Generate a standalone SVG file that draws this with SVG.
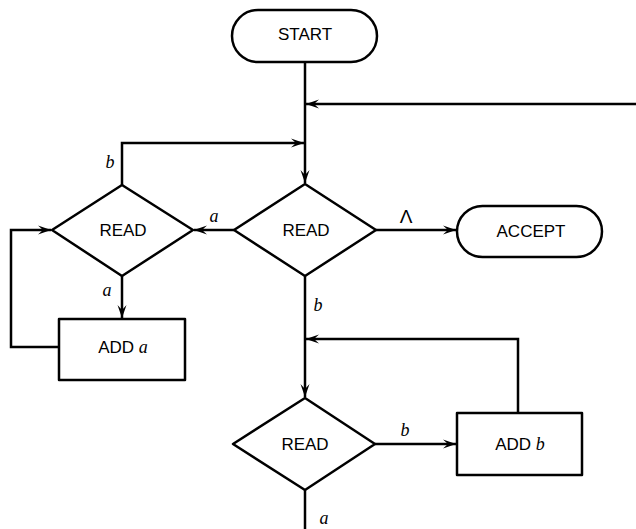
<svg xmlns="http://www.w3.org/2000/svg" width="636" height="529" viewBox="0 0 636 529">
<style>
.shape{fill:#fff;stroke:#000;stroke-width:2.5;stroke-linejoin:round}
.line{fill:none;stroke:#000;stroke-width:2.5}
.lbl{font-family:"Liberation Sans",Arial,sans-serif;font-size:17px;text-anchor:middle;dominant-baseline:central;fill:#000}
.it{font-family:"Liberation Serif","Times New Roman",serif;font-style:italic;font-size:18px;text-anchor:middle;dominant-baseline:central;fill:#000}
</style>
<defs>
<marker id="ah" markerUnits="userSpaceOnUse" markerWidth="14" markerHeight="10" refX="13" refY="5" orient="auto">
<path d="M0,0.5 L13,5 L0,9.5 L5,5 z" fill="#000"/>
</marker>
</defs>
<rect width="636" height="529" fill="#fff"/>
<g id="connectors">
<path class="line" d="M305,62 V183" marker-end="url(#ah)"/>
<path class="line" d="M636,104 H306" marker-end="url(#ah)"/>
<path class="line" d="M122,185 V143 H304" marker-end="url(#ah)"/>
<path class="line" d="M234,230 H194" marker-end="url(#ah)"/>
<path class="line" d="M122,276 V318" marker-end="url(#ah)"/>
<path class="line" d="M59,347 H11 V230 H51" marker-end="url(#ah)"/>
<path class="line" d="M376,230 H456" marker-end="url(#ah)"/>
<path class="line" d="M305,276 V397" marker-end="url(#ah)"/>
<path class="line" d="M518,413 V339 H306" marker-end="url(#ah)"/>
<path class="line" d="M375,444 H456" marker-end="url(#ah)"/>
<path class="line" d="M305,490 V529"/>
<text class="it" x="110" y="162">b</text>
<text class="it" x="214" y="216">a</text>
<text class="it" x="107" y="290">a</text>
<text class="lbl" x="406" y="216" style="font-size:19px">Λ</text>
<text class="it" x="318" y="305">b</text>
<text class="it" x="405" y="430">b</text>
<text class="it" x="324" y="518">a</text>
</g>
<g id="start">
<rect class="shape" x="232" y="10" width="145" height="52" rx="26"/>
<text class="lbl" x="305" y="34">START</text>
</g>
<g id="read1">
<polygon class="shape" points="305,184 376,230 305,276 234,230"/>
<text class="lbl" x="306" y="230">READ</text>
</g>
<g id="read2">
<polygon class="shape" points="122,185 193,230 122,276 52,230"/>
<text class="lbl" x="123" y="230">READ</text>
</g>
<g id="accept">
<rect class="shape" x="457" y="206" width="145" height="51" rx="25.5"/>
<text class="lbl" x="531" y="231">ACCEPT</text>
</g>
<g id="adda">
<rect class="shape" x="59" y="319" width="126" height="61"/>
<text class="lbl" x="123" y="347">ADD <tspan style="font-family:'Liberation Serif',serif;font-style:italic;font-size:18px">a</tspan></text>
</g>
<g id="read3">
<polygon class="shape" points="305,398 375,444 305,490 233,444"/>
<text class="lbl" x="305" y="444">READ</text>
</g>
<g id="addb">
<rect class="shape" x="457" y="413" width="125" height="62"/>
<text class="lbl" x="520" y="444">ADD <tspan style="font-family:'Liberation Serif',serif;font-style:italic;font-size:18px">b</tspan></text>
</g>
</svg>
